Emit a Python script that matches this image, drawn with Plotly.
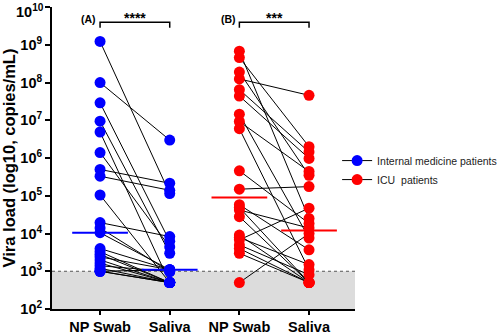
import plotly.graph_objects as go

# ---- data (copies/mL) ----
categories = ["NP Swab", "Saliva", "NP Swab", "Saliva"]
tick_vals = [1e2, 1e3, 1e4, 1e5, 1e6, 1e7, 1e8, 1e9, 1e10]
tick_text = ["10<sup>2</sup>", "10<sup>3</sup>", "10<sup>4</sup>", "10<sup>5</sup>", "10<sup>6</sup>",
             "10<sup>7</sup>", "10<sup>8</sup>", "10<sup>9</sup>", ""]
top_tick_text = "10<sup>10</sup>"

im_np = [1.23e9, 1.0e8, 2.9e7, 9.5e6, 4.9e6, 1.4e6, 5.0e5, 3.3e5, 1.05e5, 1.95e4, 1.4e4,
         1.05e4, 4.0e3, 3.3e3, 2.8e3, 2.4e3, 2.0e3, 1.65e3, 1.4e3, 1.2e3, 1.0e3, 1.0e3, 1.0e3]
im_saliva = [1.15e5, 3.0e6, 6.2e3, 3.0e3, 5.0e2, 4.4e3, 2.15e5, 1.4e5, 5.0e2, 8.3e3, 9.8e2,
             1.1e3, 1.1e3, 5.0e2, 5.0e2, 1.1e3, 5.0e2, 5.0e2, 9.8e2, 5.0e2, 5.0e2, 1.1e3, 5.0e2]

icu_np = [6.8e8, 4.6e8, 1.9e8, 1.25e8, 6.5e7, 4.4e7, 1.45e7, 9.3e6, 6.0e6, 4.6e5, 1.5e5,
          5.8e4, 4.9e4, 4.2e4, 2.8e4, 9.1e3, 7.8e3, 6.8e3, 5.0e3, 4.0e3, 3.0e3, 5.0e2]
icu_saliva = [2.5e4, 2.0e6, 3.5e5, 4.6e7, 1.45e6, 9.8e5, 7.6e3, 4.4e5, 1.1e3, 1.85e4, 1.75e5,
              3.7e3, 5.0e2, 1.4e4, 5.0e2, 5.0e2, 1.5e3, 4.7e4, 8.1e2, 5.0e2, 5.0e2, 1.0e4]

medians = [1.05e4, 1.1e3, 9.0e4, 1.2e4]
groups = ["Internal medicine patients", "ICU\u00a0 patients"]
colors = ["#0000FF", "#FF0000"]
stars = ["****", "***"]
panel_labels = ["(A)", "(B)"]

FONT = "Liberation Sans, Arial, sans-serif"

fig = go.Figure()


def paired(np_vals, sal_vals, x0):
    xs, ys = [], []
    for a, b in zip(np_vals, sal_vals):
        xs += [x0, x0 + 1, None]
        ys += [a, b, None]
    return xs, ys


for gi, (np_vals, sal_vals) in enumerate([(im_np, im_saliva), (icu_np, icu_saliva)]):
    xs, ys = paired(np_vals, sal_vals, 2 * gi)
    fig.add_trace(go.Scatter(
        x=xs, y=ys, mode="lines+markers", name=groups[gi],
        line=dict(color="black", width=1),
        marker=dict(color=colors[gi], size=11, line=dict(width=0)),
        cliponaxis=False,
    ))

# median bars
for i, m in enumerate(medians):
    fig.add_trace(go.Scatter(
        x=[i - 0.4, i + 0.4], y=[m, m], mode="lines",
        line=dict(color=colors[i // 2], width=2), showlegend=False, hoverinfo="skip",
    ))

# significance brackets
b_top = 10 ** 9.60
b_end = 10 ** 9.45
for gi in range(2):
    x0 = 2 * gi
    fig.add_trace(go.Scatter(
        x=[x0, x0, x0 + 1, x0 + 1], y=[b_end, b_top, b_top, b_end], mode="lines",
        line=dict(color="black", width=1.5), showlegend=False, hoverinfo="skip",
        cliponaxis=False,
    ))
    fig.add_annotation(x=x0 + 0.5, y=0.996, xref="x", yref="paper", text=stars[gi],
                       showarrow=False, font=dict(family=FONT, size=14, color="black", weight="bold"))
    fig.add_annotation(x=x0 - 0.16, y=0.988, xref="x", yref="paper", text=panel_labels[gi],
                       showarrow=False, font=dict(family=FONT, size=10.5, color="black", weight="bold"))

# top tick label, nudged down so it stays inside the figure
fig.add_annotation(x=0, y=1, xref="paper", yref="paper", xanchor="right", yanchor="middle",
                   xshift=-6, yshift=-4, text=top_tick_text, showarrow=False,
                   font=dict(family=FONT, size=14.5, color="black", weight="bold"))

# LOD shading and dotted line
fig.add_shape(type="rect", xref="paper", yref="paper", x0=0, x1=1, y0=0, y1=0.125,
              fillcolor="#DCDCDC", line=dict(width=0), layer="below")
fig.add_shape(type="line", xref="paper", yref="paper", x0=0, x1=1, y0=0.125, y1=0.125,
              line=dict(color="#555555", width=1, dash="dot"), layer="below")

fig.update_layout(
    width=502, height=334,
    margin=dict(l=52, r=147, t=7, b=25, autoexpand=False),
    plot_bgcolor="white", paper_bgcolor="white",
    font=dict(family=FONT, color="black"),
    showlegend=True,
    legend=dict(x=0.941, y=0.46, xanchor="left", yanchor="middle",
                font=dict(family=FONT, size=10.5, color="#222222"),
                bgcolor="rgba(0,0,0,0)", itemwidth=30, tracegroupgap=4),
)
fig.update_xaxes(
    range=[-0.69, 3.66], tickvals=[0, 1, 2, 3], ticktext=categories,
    showline=True, linecolor="black", linewidth=2, ticks="outside", ticklen=4,
    tickwidth=1.5, tickcolor="black", showgrid=False, zeroline=False, automargin=False,
    tickfont=dict(family=FONT, size=14.5, color="black", weight="bold"),
)
fig.update_yaxes(
    type="log", range=[2, 10.003], tickvals=tick_vals, ticktext=tick_text,
    showline=True, linecolor="black", linewidth=2, ticks="outside", ticklen=5,
    tickwidth=1.5, tickcolor="black", showgrid=False, zeroline=False, automargin=False,
    ticklabeloverflow="allow",
    tickfont=dict(family=FONT, size=14.5, color="black", weight="bold"),
    title=dict(text="Vira load (log10, copies/mL)", standoff=3,
               font=dict(family=FONT, size=16.5, color="black", weight="bold")),
)

fig.write_html("out.html", config={"displayModeBar": False},
               post_script="document.body.style.margin='0px';")
